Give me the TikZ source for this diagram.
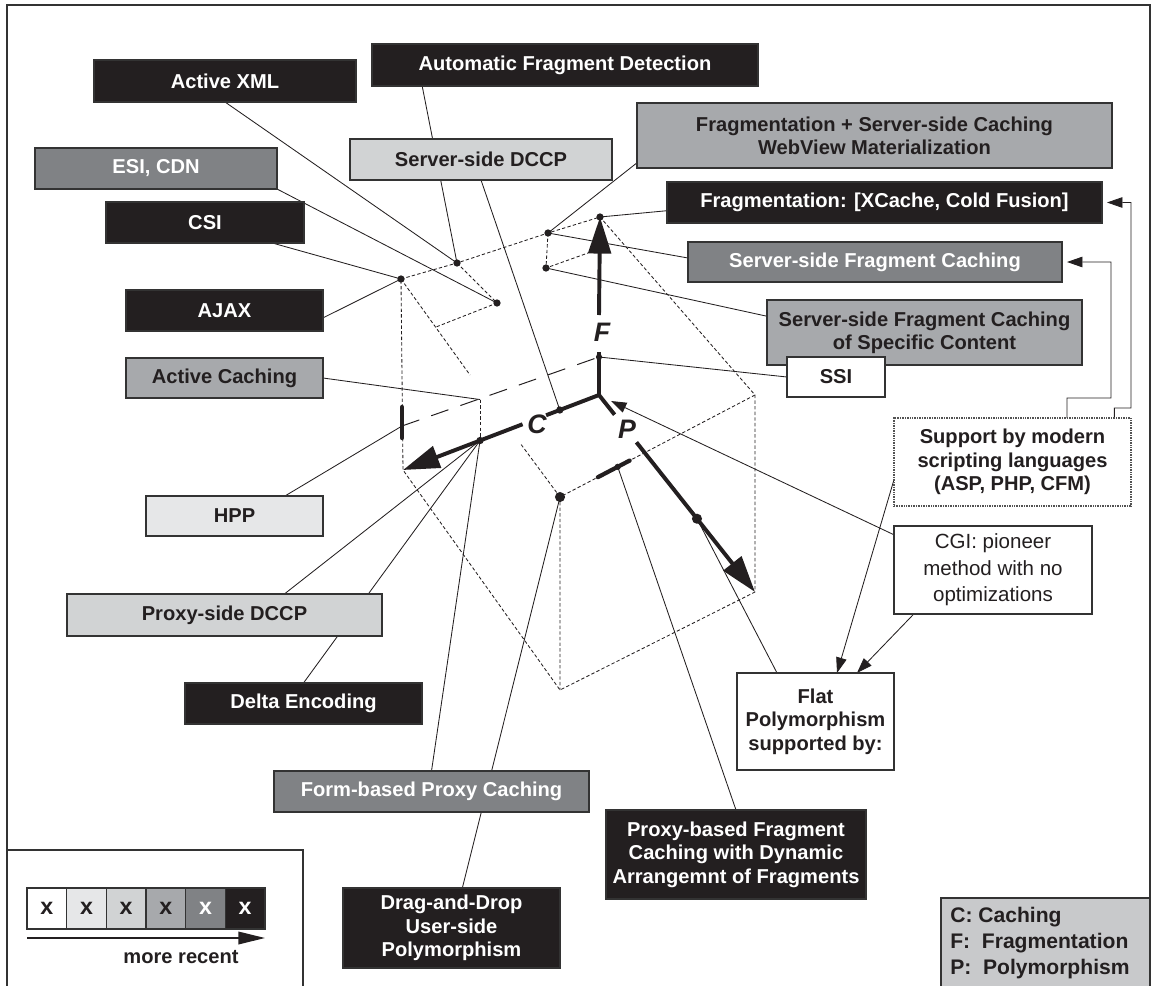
\documentclass[tikz,border=0pt]{standalone}
\usepackage{fontspec}
\setmainfont{Liberation Sans}
\usetikzlibrary{calc,arrows.meta}
\pgfdeclarelayer{back}
\pgfsetlayers{back,main}

\definecolor{ink}{HTML}{231F20}
\definecolor{gdark}{HTML}{808285}
\definecolor{gmid}{HTML}{A7A9AC}
\definecolor{glight}{HTML}{D1D3D4}
\definecolor{gpale}{HTML}{E6E7E8}
\definecolor{glegend}{HTML}{C8C9CB}
\definecolor{edge}{HTML}{333333}

\tikzset{
  corners/.style n args={4}{at={({((#1)+(#3))/2},{((#2)+(#4))/2})},
      minimum width={((#3)-(#1))*0.025cm}, minimum height={((#4)-(#2))*0.025cm}},
  tbox/.style={draw=edge, line width=0.9pt, inner sep=0pt, outer sep=0pt, align=center,
               font=\fontsize{14.3}{16.6}\selectfont\bfseries},
  bblack/.style={tbox, fill=ink, text=white},
  bdark/.style={tbox, fill=gdark, text=white},
  bmid/.style={tbox, fill=gmid, text=ink},
  blight/.style={tbox, fill=glight, text=ink},
  bpale/.style={tbox, fill=gpale, text=ink},
  bwhite/.style={tbox, fill=white, text=ink},
  conn/.style={line width=0.6pt, draw=ink},
  hid/.style={line width=0.6pt, draw=ink, dash pattern=on 2.4pt off 1.6pt},
  longdash/.style={line width=0.7pt, draw=ink, dash pattern=on 13pt off 9pt},
  axisline/.style={line width=2.8pt, draw=ink},
  axistip/.style={-{Triangle[length=26pt,width=16pt]}},
  smalltip/.style={-{Triangle[length=11pt,width=7.5pt]}},
  framel/.style={line width=0.8pt, draw=edge},
  axlabel/.style={font=\fontsize{19}{22}\selectfont\bfseries\itshape, text=ink, inner sep=0pt},
  cellbox/.style={draw=edge, line width=0.9pt, inner sep=0pt, outer sep=0pt,
                  font=\fontsize{16.5}{18}\selectfont\bfseries},
}

\begin{document}
\begin{tikzpicture}[x=0.025cm,y=-0.025cm]
\useasboundingbox (0,0) rectangle (1152,986);

% ---------- geometry of the three axes and the dashed cube ----------
\coordinate (O)   at (599,395);
\coordinate (Ft)  at (600,217);
\coordinate (Ct)  at (403,470);
\coordinate (Pt)  at (755,592);
\coordinate (A)   at (401,279);
\coordinate (P1)  at (457,263);
\coordinate (P2)  at (497,303);
\coordinate (P3)  at (436,327);
\coordinate (Ae)  at (470,375);
\coordinate (B)   at (548,233);
\coordinate (B2)  at (546,268);
\coordinate (B2e) at (588,253);
\coordinate (R)   at (755,395);
\coordinate (D)   at (560,497);
\coordinate (De)  at (520,443);
\coordinate (Bot) at (560,690);
\coordinate (Fd)  at (599,357);
\coordinate (C1)  at ($(O)!0.2!(Ct)$);
\coordinate (C2)  at ($(O)!0.607!(Ct)$);
\coordinate (AC)  at ($(C2)+(0,-41)$);
\coordinate (Hb)  at (402,426);
\coordinate (Bar1) at (402,407);
\coordinate (Bar2) at (402,438);
\coordinate (T1)  at ($(R)!0.806!(D)$);
\coordinate (T2)  at ($(R)!0.643!(D)$);
\coordinate (Td)  at ($(R)!0.704!(D)$);
\coordinate (Pd)  at ($(O)!0.628!(Pt)$);
\coordinate (CGt) at (611,401);

% ---------- labelled boxes ----------
\node[bblack, corners={94}{60}{356}{102}]    (axml)   {Active XML};
\node[bblack, corners={372}{44}{758}{86}]    (afd)    {Automatic Fragment Detection};
\node[bdark,  corners={35}{148}{277}{189}]   (esi)    {ESI, CDN};
\node[bblack, corners={106}{202}{304}{243}]  (csi)    {CSI};
\node[bblack, corners={126}{290}{323}{331}]  (ajax)   {AJAX};
\node[blight, corners={350}{139}{612}{180}]  (ssdccp) {Server-side DCCP};
\node[bmid,   corners={637}{103}{1112}{168}] (fssc)   {Fragmentation + Server-side Caching\\WebView Materialization};
\node[bblack, corners={667}{182}{1102}{223}] (fxc)    {Fragmentation: [XCache, Cold Fusion]};
\node[bdark,  corners={688}{242}{1062}{282}] (ssfc)   {Server-side Fragment Caching};
\node[bmid,   corners={767}{300}{1082}{365}] (ssfs)   {Server-side Fragment Caching\\of Specific Content};
\node[bwhite, corners={787}{357}{885}{397}]  (ssi)    {SSI};
\node[bmid,   corners={126}{358}{323}{398}]  (actc)   {Active Caching};
\node[bpale,  corners={146}{496}{323}{536}]  (hpp)    {HPP};
\node[blight, corners={67}{594}{382}{636}]   (pdccp)  {Proxy-side DCCP};
\node[bblack, corners={185}{683}{422}{724}]  (delta)  {Delta Encoding};
\node[bdark,  corners={274}{771}{589}{812}]  (form)   {Form-based Proxy Caching};
\node[bblack, corners={343}{888}{560}{968}]  (dnd)    {Drag-and-Drop\\User-side\\Polymorphism};
\node[bblack, corners={606}{810}{866}{899}]  (pbfc)   {Proxy-based Fragment\\Caching with Dynamic\\Arrangemnt of Fragments};
\node[bwhite, corners={737}{673}{894}{770}]  (flat)   {Flat\\Polymorphism\\supported by:};
\node[bwhite, corners={894}{526}{1092}{614}, font=\fontsize{14.6}{18.8}\selectfont] (cgi)
     {CGI: pioneer\\method with no\\optimizations};
\node[bwhite, corners={894}{418}{1131}{506}, draw=edge!85, dash pattern=on 0.6pt off 0.6pt] (sup)
     {Support by modern\\scripting languages\\(ASP, PHP, CFM)};

% ---------- legends ----------
\foreach \i/\f/\t in {0/white/ink,1/gpale/ink,2/glight/ink,3/gmid/ink,4/gdark/white,5/ink/white}
  \node[cellbox, fill=\f, text=\t, corners={27+39.67*\i}{888}{66.67+39.67*\i}{929}] (lg\i) {x};
\coordinate (mr1) at (27,938);
\coordinate (mr2) at (265,938);
\draw[line width=1.1pt, draw=ink, -{Triangle[length=19pt,width=9pt]}] (mr1) -- (mr2);
\node[font=\fontsize{14.3}{16.6}\selectfont\bfseries, text=ink] (mrt) at (181,957) {more recent};

\node[fill=glegend, draw=edge, line width=1.4pt, inner sep=0pt, corners={941}{898}{1150}{995}] (keybox) {};
\node[anchor=west, align=left, inner sep=0pt, text=ink,
      font=\fontsize{15}{18.2}\selectfont\bfseries] (keytxt) at (950,943)
     {C: Caching\\F:~~Fragmentation\\P:~~Polymorphism};

% ---------- lines behind the boxes ----------
\begin{pgfonlayer}{back}
  % outer frame and the frame of the colour key
  \draw[framel] (7,995) -- (7,5) -- (1150,5) -- (1150,995);
  \draw[framel] (7,850) -- (303,850) -- (303,995);

  % dashed cube edges
  \draw[hid] (A) -- (P1) -- (B) -- (Ft) -- (R) -- (Pt) -- (Bot) -- (Ct) -- (A);
  \draw[hid] (R) -- (D) -- (Bot);
  \draw[hid] (B) -- (B2) -- (B2e);
  \draw[hid] (A) -- (Ae);
  \draw[hid] (P1) -- (P2) -- (P3);
  \draw[hid] (D) -- (De);
  \draw[hid] (AC) -- (C2);
  \draw[longdash] (Hb) -- (Fd);

  % connectors from the boxes to the points of the cube
  \draw[conn] (axml.south) -- (P1);
  \draw[conn] ($(afd.south west)!0.13!(afd.south east)$) -- (P1);
  \draw[conn] (esi.south east) -- (P2);
  \draw[conn] ($(csi.south west)!0.84!(csi.south east)$) -- (A);
  \draw[conn] ($(ajax.north east)!0.68!(ajax.south east)$) -- (A);
  \draw[conn] (ssdccp.south) -- (C1);
  \draw[conn] ($(fssc.north west)!0.92!(fssc.south west)$) -- (B);
  \draw[conn] ($(fxc.north west)!0.7!(fxc.south west)$) -- (Ft);
  \draw[conn] ($(ssfc.north west)!0.4!(ssfc.south west)$) -- (B);
  \draw[conn] ($(ssfs.north west)!0.25!(ssfs.south west)$) -- (B2);
  \draw[conn] (ssi.west) -- (Fd);
  \draw[conn] (actc.east) -- (AC);
  \draw[conn] ($(hpp.north west)!0.785!(hpp.north east)$) -- (Hb);
  \draw[conn] ($(pdccp.north west)!0.69!(pdccp.north east)$) -- (C2);
  \draw[conn] (delta.north) -- (C2);
  \draw[conn] (form.north) -- (C2);
  \draw[conn] ($(dnd.north west)!0.55!(dnd.north east)$) -- (D);
  \draw[conn] (pbfc.north) -- (Td);
  \draw[conn] ($(flat.north west)!0.255!(flat.north east)$) -- (Pd);
  \draw[conn, smalltip] ($(cgi.north west)!0.1!(cgi.south west)$) -- (CGt);
  \draw[conn, smalltip] ($(sup.north west)!0.7!(sup.south west)$) -- ($(flat.north west)!0.637!(flat.north east)$);
  \draw[conn, smalltip] ($(cgi.south west)!0.1!(cgi.south east)$) -- ($(flat.north west)!0.764!(flat.north east)$);
  \draw[conn, smalltip] ($(sup.north west)!0.73!(sup.north east)$) -- ++(0,-20) -- (1111,398)
        -- (1111,262) -- ($(ssfc.east)+(5,0)$);
  \draw[conn, smalltip] ($(sup.north west)!0.93!(sup.north east)$) -- ++(0,-10) -- (1131,408)
        -- (1131,202.5) -- ($(fxc.east)+(5,0)$);
\end{pgfonlayer}

% ---------- the three axes ----------
\draw[axisline] ($(O)!0.27!(Ct)$) -- (O) -- (599,352);
\draw[axisline, axistip] (599,315) -- (Ft);
\draw[axisline, axistip] ($(O)!0.39!(Ct)$) -- (Ct);
\draw[axisline] (O) -- ($(O)!0.1!(Pt)$);
\draw[axisline, axistip] ($(O)!0.24!(Pt)$) -- (Pt);
\node[axlabel] (lF) at (602,332) {F};
\node[axlabel] (lC) at (537,424) {C};
\node[axlabel] (lP) at (627,429) {P};

% thick marks on the edges
\draw[line width=3pt, draw=ink, line cap=round] (Bar1) -- (Bar2);
\draw[line width=3pt, draw=ink, line cap=round] (T1) -- (T2);

% junction dots
\foreach \p in {A,P1,P2,B,B2,Ft,C1,C2}
  \fill[ink] (\p) circle (2.6pt);
\fill[ink] (Fd) circle (2.2pt);
\fill[ink] (Td) circle (2.2pt);
\fill[ink] (D) circle (3.6pt);
\fill[ink] (Pd) circle (3.6pt);
\end{tikzpicture}
\end{document}
